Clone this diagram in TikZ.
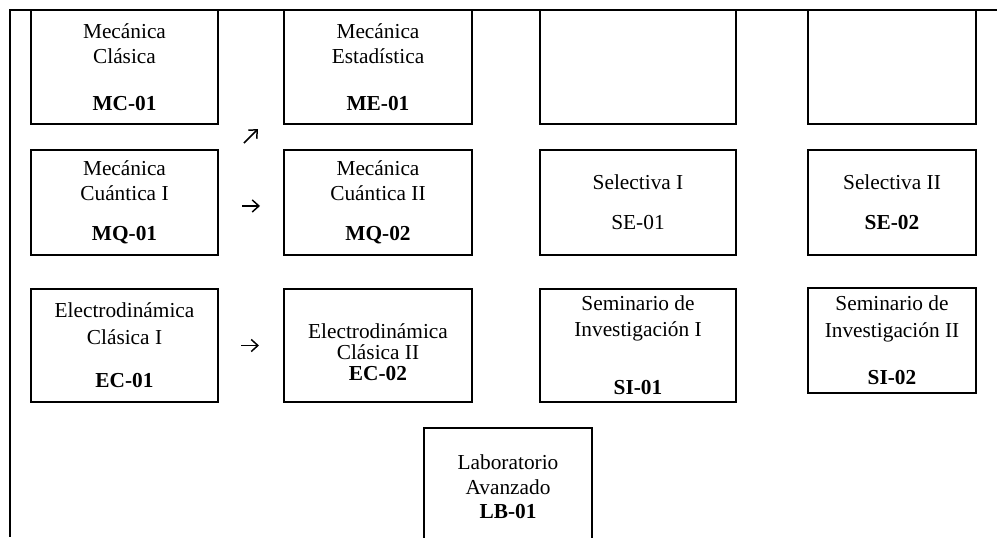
\documentclass[tikz,border=0pt]{standalone}
\usepackage{fontspec}
\setmainfont{Liberation Serif}
\usetikzlibrary{positioning, calc, arrows.meta}

\begin{document}
\begin{tikzpicture}[x=0.75pt, y=-0.75pt,%
  BoxStyle/.style={draw=black, line width=1.5pt, inner sep=0pt, outer sep=0pt,
    align=center, font={\fontsize{16}{18.5}\selectfont}},
  ArrowStyle/.style={-{Straight Barb[length=5pt,width=9pt]}, line width=1.1pt},
  FrameStyle/.style={line width=1.2pt}]
  \clip (0,0) rectangle (997,537);
  \coordinate (tl) at (10,10);    % corner of the page frame
  \coordinate (tr) at (997,10);   % frame runs off to the right
  \coordinate (bl) at (10,537);   % and off to the bottom
  \draw[FrameStyle] (tr) -- (tl) -- (bl);
  \node[BoxStyle, minimum width=140.25pt, minimum height=85.5pt, anchor=north west]
    (mc) at (31,10) {Mecánica\\Clásica\\[16.75pt]\textbf{MC-01}};
  \node[BoxStyle, minimum width=141pt, minimum height=85.5pt, right=49.5pt of mc]
    (me) {Mecánica\\Estadística\\[16.75pt]\textbf{ME-01}};
  \node[BoxStyle, minimum width=147pt, minimum height=85.5pt, right=51pt of me] (e3) {};
  \node[BoxStyle, minimum width=126pt, minimum height=85.5pt, right=54pt of e3] (e4) {};
  \node[BoxStyle, minimum width=140.25pt, minimum height=78.75pt, below=19.5pt of mc]
    (mq1) {Mecánica\\Cuántica I\\[11.5pt]\textbf{MQ-01}};  % below MC
  \node[BoxStyle, minimum width=141pt, minimum height=78.75pt, below=19.5pt of me]
    (mq2) {Mecánica\\Cuántica II\\[11.5pt]\textbf{MQ-02}}; % below ME
  \node[BoxStyle, minimum width=147pt, minimum height=78.75pt, below=19.5pt of e3]
    (se1) {Selectiva I\\[11.5pt]SE-01};
  \node[BoxStyle, minimum width=126pt, minimum height=78.75pt, below=19.5pt of e4]
    (se2) {Selectiva II\\[11.5pt]\textbf{SE-02}};
  \node[BoxStyle, minimum width=140.25pt, minimum height=84.75pt, below=25.5pt of mq1]
    (ec1) {Electrodinámica\\[1.75pt]Clásica I\\[13.75pt]\textbf{EC-01}};
  \node[BoxStyle, minimum width=141pt, minimum height=84.75pt, below=25.5pt of mq2,
    text height=52pt, text depth=0pt]
    (ec2) {Electrodinámica\\[-3pt]Clásica II\\[-2.75pt]\textbf{EC-02}};
  \node[BoxStyle, minimum width=147pt, minimum height=84.75pt, below=25.5pt of se1]
    (si1) {Seminario de\\[1pt]Investigación I\\[25pt]\textbf{SI-01}};
  \node[BoxStyle, minimum width=126pt, minimum height=78.75pt, below=24.75pt of se2]
    (si2) {Seminario de\\[1.75pt]Investigación II\\[16.75pt]\textbf{SI-02}};
  \node[BoxStyle, minimum width=126pt, minimum height=88.5pt, below=19.5pt]
    (lb) at ($(ec2.south)!.5!(si1.south)$) {Laboratorio\\Avanzado\\\textbf{LB-01}};
  \coordinate (d0) at ($(mq1.north east)+(26,-7)$); % tail of the slanted arrow
  \coordinate (d1) at ($(d0)+(14,-14)$);             % its head
  \draw[ArrowStyle] (d0) -- (d1);
  \draw[ArrowStyle, shorten <=18pt, shorten >=18pt]
    ([yshift=-2.6pt]mq1.east) -- ([yshift=-2.6pt]mq2.west);
  \draw[ArrowStyle, shorten <=17.25pt, shorten >=18.75pt] (ec1) -- (ec2);
\end{tikzpicture}
\end{document}
